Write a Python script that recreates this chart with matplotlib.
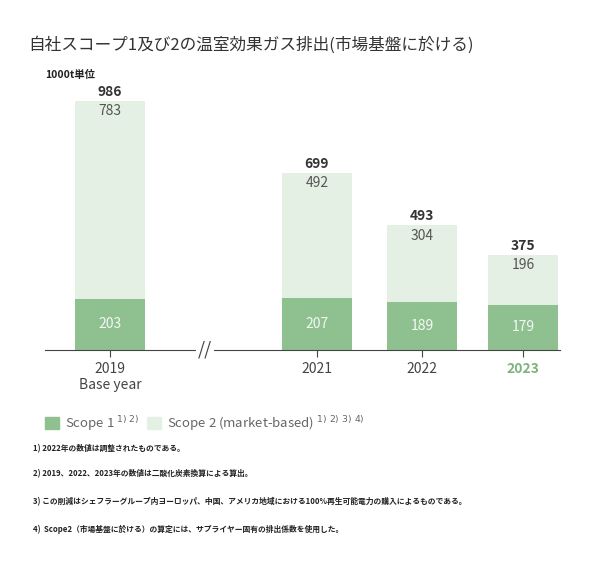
import matplotlib
matplotlib.use("Agg")
import matplotlib.pyplot as plt

plt.rcParams['font.family'] = ['Noto Sans CJK JP', 'DejaVu Sans']

years = ["2019\nBase year", "2021", "2022", "2023"]
scope1 = [203, 207, 189, 179]
scope2 = [783, 492, 304, 196]
totals = [986, 699, 493, 375]
footnotes = [
    "1) 2022年の数値は調整されたものである。",
    "2) 2019、2022、2023年の数値は二酸化炭素換算による算出。",
    "3) この削減はシェフラーグループ内ヨーロッパ、中国、アメリカ地域における100%再生可能電力の購入によるものである。",
    "4)  Scope2（市場基盤に於ける）の算定には、サプライヤー固有の排出係数を使用した。",
]

c1 = "#8fc190"
c2 = "#e5f0e4"
xpos = [110, 317, 422, 523]

fig = plt.figure(figsize=(6, 5.7), dpi=100)
ax = fig.add_axes([45/600, 1-350/570, 515/600, 278/570])
ax.bar(xpos, scope1, width=70, color=c1)
ax.bar(xpos, scope2, bottom=scope1, width=70, color=c2)
for x, s1, s2, t in zip(xpos, scope1, scope2, totals):
    ax.text(x, s1/2, str(s1), ha="center", va="center", color="#f4f8f4", fontsize=10)
    ax.text(x, s1 + s2 - 40, str(s2), ha="center", va="center", color="#555555", fontsize=10)
    ax.text(x, t + 8, str(t), ha="center", va="bottom", color="#333333", fontsize=10, fontweight="bold")
ax.set_xlim(45, 560)
ax.set_ylim(0, 1100)
ax.set_xticks(xpos)
ax.set_xticklabels(years, fontsize=10, color="#444444")
ax.get_xticklabels()[-1].set_color("#7fb27f")
ax.get_xticklabels()[-1].set_fontweight("bold")
ax.tick_params(axis="x", length=5, color="#444444")
ax.set_yticks([])
for s in ["top", "right", "left"]:
    ax.spines[s].set_visible(False)
ax.spines["bottom"].set_color("#444444")
ax.text(205, 0, "//", ha="center", va="center", fontsize=13, color="#444444",
        bbox=dict(fc="white", ec="none", pad=1))

fig.text(28/600, 1-45/570, "自社スコープ1及び2の温室効果ガス排出(市場基盤に於ける)", fontsize=12, color="#333333", va="center")
fig.text(45/600, 1-75/570, "1000t単位", fontsize=7.5, fontweight="bold", color="#222222", va="center")

ly = 1-424/570
fig.patches.append(plt.Rectangle((45/600, ly-0.009), 14/600, 12/570, color=c1, transform=fig.transFigure))
fig.text(65/600, ly, "Scope 1 $^{1)\\ 2)}$", fontsize=9.5, color="#666666", va="center")
fig.patches.append(plt.Rectangle((147/600, ly-0.009), 14/600, 12/570, color=c2, transform=fig.transFigure))
fig.text(167/600, ly, "Scope 2 (market-based) $^{1)\\ 2)\\ 3)\\ 4)}$", fontsize=9.5, color="#666666", va="center")

for i, fn in enumerate(footnotes):
    y = [449, 474, 502, 529][i]
    fig.text(33/600, 1-y/570, fn, fontsize=5.6, fontweight="bold", color="#222222", va="center")

fig.savefig("out.png", dpi=100, facecolor="white")
